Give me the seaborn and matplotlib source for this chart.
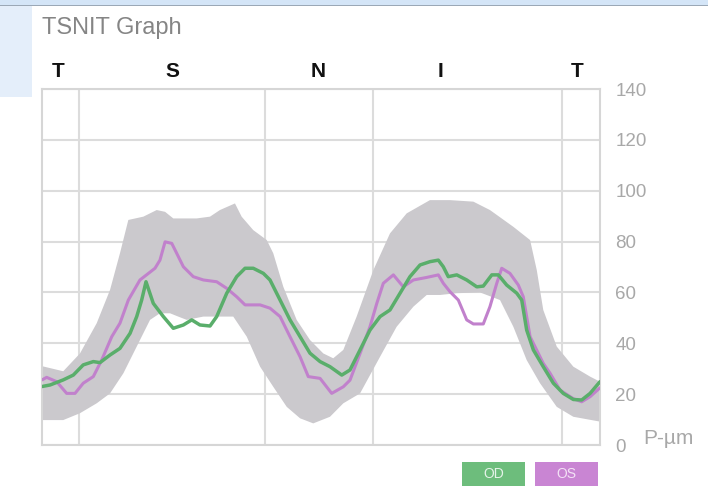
import numpy as np
import matplotlib
matplotlib.use("Agg")
import matplotlib.pyplot as plt
import seaborn as sns
from matplotlib.patches import Rectangle

# TSNIT profile, x in degrees (T-S-N-I-T), y in microns
od_x = [0, 5.2, 13.7, 20.2, 26.6, 33.1, 37.4, 43.9, 50.3, 56.8, 61.1, 64.3, 67.1, 71.8, 78.3,
        84.7, 91.2, 96.6, 101.9, 108.4, 112.7, 119.2, 125.6, 131.0, 136.3, 142.8, 147.1, 153.6,
        160.0, 166.5, 172.9, 179.4, 185.8, 193.4, 198.7, 205.2, 211.6, 218.1, 224.5, 231.0,
        237.4, 243.9, 250.3, 255.7, 258.9, 262.1, 267.6, 274.0, 280.5, 284.7, 290.2, 294.4,
        299.8, 306.3, 309.5, 312.7, 317.0, 323.4, 329.9, 336.3, 342.8, 348.2, 353.6, 360]
od_y = [23.0, 23.6, 25.6, 27.5, 31.5, 32.8, 32.4, 35.4, 38.0, 43.9, 50.5, 57.0, 64.2, 55.7, 50.5,
        45.9, 47.2, 49.2, 47.2, 46.8, 50.5, 59.7, 66.2, 69.5, 69.5, 67.5, 64.9, 57.0,
        49.2, 42.6, 36.1, 32.8, 30.8, 27.5, 29.5, 37.4, 45.2, 50.5, 53.1, 59.7,
        66.2, 70.8, 72.1, 72.7, 70.1, 66.2, 66.9, 64.9, 62.2, 62.5, 66.9, 66.9,
        62.9, 59.7, 57.0, 45.2, 37.4, 30.8, 24.3, 20.3, 17.9, 17.7, 20.3, 24.9]

os_x = [0, 3.0, 9.5, 15.9, 21.3, 26.6, 33.1, 38.5, 45.0, 50.3, 55.7, 63.2, 72.9, 76.1, 79.4,
        83.7, 86.9, 91.2, 97.6, 104.1, 112.7, 119.2, 125.6, 131.0, 140.7, 147.1, 153.6, 160.0,
        166.5, 171.8, 179.4, 186.9, 194.4, 198.7, 205.2, 211.6, 216.0, 220.2, 226.7, 233.1,
        239.6, 248.2, 255.7, 258.9, 263.2, 268.6, 274.0, 278.3, 284.7, 289.0, 293.4, 296.6,
        301.9, 307.3, 310.5, 314.9, 323.4, 327.8, 334.2, 342.8, 348.2, 353.6, 360]
os_y = [25.6, 26.6, 24.9, 20.3, 20.3, 24.3, 26.9, 33.4, 42.6, 47.9, 57.0, 64.9, 69.5, 72.7, 79.9,
        79.3, 75.4, 70.1, 66.2, 64.9, 64.2, 61.6, 58.3, 55.1, 55.1, 53.8, 50.5, 42.6,
        34.7, 26.9, 26.2, 20.3, 22.9, 25.5, 36.0, 46.5, 55.7, 63.6, 66.9, 62.2,
        64.9, 65.9, 66.9, 63.6, 60.3, 57.0, 49.2, 47.6, 47.6, 54.4, 63.6, 69.5,
        67.5, 62.9, 58.3, 42.6, 32.1, 28.2, 21.6, 18.2, 17.0, 19.0, 22.5]

# normal range band
band_up_x = [0, 13.7, 24.5, 35.3, 43.9, 50.3, 55.7, 65.4, 74.0, 79.4, 84.7, 99.8, 108.4, 114.8,
             124.5, 128.8, 136.3, 145.0, 149.2, 155.7, 164.3, 172.9, 181.5, 187.9, 194.4, 203.0,
             213.8, 224.5, 235.3, 250.3, 263.2, 278.3, 289.0, 304.1, 314.9, 319.2, 323.4, 332.1,
             342.8, 353.6, 360]
band_up_y = [31.0, 29.0, 36.0, 47.9, 61.0, 75.4, 88.5, 89.8, 92.4, 91.7, 89.1, 89.1, 89.8, 92.4,
             95.0, 89.8, 84.5, 80.6, 75.4, 62.2, 49.2, 41.3, 36.0, 34.1, 37.4, 50.5,
             68.8, 83.2, 91.1, 96.3, 96.3, 95.7, 92.4, 85.8, 80.6, 68.8, 53.1, 38.7,
             30.8, 26.9, 24.9]
band_lo_x = [0, 13.7, 24.5, 35.3, 43.9, 52.5, 61.1, 69.7, 76.1, 82.6, 87.9, 93.4, 104.1, 112.7,
             123.4, 132.1, 140.7, 149.2, 157.9, 166.5, 175.0, 185.8, 194.4, 205.2, 218.1, 228.8,
             239.6, 248.2, 256.8, 267.6, 282.6, 295.5, 304.1, 312.7, 321.3, 332.1, 342.8, 360]
band_lo_y = [9.8, 9.8, 12.5, 16.4, 20.3, 28.2, 38.7, 49.2, 51.8, 51.8, 50.5, 49.2, 50.5, 50.5,
             50.5, 42.6, 30.8, 22.9, 15.0, 10.5, 8.5, 11.1, 16.4, 20.3, 34.7, 46.5,
             54.4, 59.0, 59.0, 59.7, 60.0, 57.0, 46.5, 33.4, 24.3, 15.0, 11.1, 9.2]

sector_bounds = [23.9, 143.9, 213.6, 335.5]
sector_labels = ['T', 'S', 'N', 'I', 'T']
sector_pos = [10.3, 83.9, 178.1, 256.8, 345.2]
y_ticks = [0, 20, 40, 60, 80, 100, 120, 140]

sns.set_style("white")
plt.rcParams['font.family'] = ['Liberation Sans', 'DejaVu Sans']

fig = plt.figure(figsize=(7.08, 4.97), dpi=100)
W, H = 708, 497

# screenshot frame bits (top strip and left panel)
fig.patches.append(Rectangle((0, 1 - 5 / H), 1, 5 / H, transform=fig.transFigure,
                             facecolor='#d4e5f7', edgecolor='none'))
fig.patches.append(Rectangle((0, 1 - 6 / H), 1, 1.2 / H, transform=fig.transFigure,
                             facecolor='#9ba8b6', edgecolor='none'))
fig.patches.append(Rectangle((0, 1 - 97 / H), 32 / W, 91 / H, transform=fig.transFigure,
                             facecolor='#e4eefa', edgecolor='none'))

ax = fig.add_axes([42 / W, 1 - 445 / H, 558 / W, 356 / H])

band_x = np.concatenate([band_up_x, band_lo_x[::-1]])
band_y = np.concatenate([band_up_y, band_lo_y[::-1]])
ax.fill(band_x, band_y, color='#cbc9cd', lw=0, zorder=1)

sns.lineplot(x=os_x, y=os_y, color='#c181cc', linewidth=2.2, ax=ax, zorder=3)
sns.lineplot(x=od_x, y=od_y, color='#5aae6b', linewidth=2.5, ax=ax, zorder=4)

ax.set_xlim(0, 360)
ax.set_ylim(0, 140)
ax.set_xticks(sector_bounds)
ax.set_xticklabels([])
ax.set_yticks(y_ticks)
ax.yaxis.tick_right()
ax.grid(True, color='#dcdcdc', linewidth=1.5, zorder=0)
ax.set_axisbelow(True)
ax.tick_params(axis='x', length=0)
ax.tick_params(axis='y', length=0, pad=11, labelcolor='#a8a8a8', labelsize=13.5)
for s in ax.spines.values():
    s.set_color('#d6d6d6')
    s.set_linewidth(1.5)
ax.set_xlabel('')
ax.set_ylabel('')

for lab, pos in zip(sector_labels, sector_pos):
    ax.text(pos, 1.048, lab, transform=ax.get_xaxis_transform(), ha='center', va='center',
            fontsize=15, fontweight='bold', color='#111111')

fig.text(42 / W, 1 - 28 / H, 'TSNIT Graph', ha='left', va='center', fontsize=17, color='#858585')
fig.text(643 / W, 1 - 438 / H, 'P-µm', ha='left', va='center', fontsize=15, color='#a8a8a8')

# OD / OS legend chips
for x0, col, txt in [(462, '#6dbd7c', 'OD'), (535, '#c985d3', 'OS')]:
    fig.patches.append(Rectangle((x0 / W, 1 - 486 / H), 63 / W, 24 / H, transform=fig.transFigure,
                                 facecolor=col, edgecolor='none'))
    fig.text((x0 + 31.5) / W, 1 - 474 / H, txt, ha='center', va='center', fontsize=10,
             color='#e6f3e9' if txt == 'OD' else '#f3e2f5')

fig.savefig('out.png', dpi=100)
